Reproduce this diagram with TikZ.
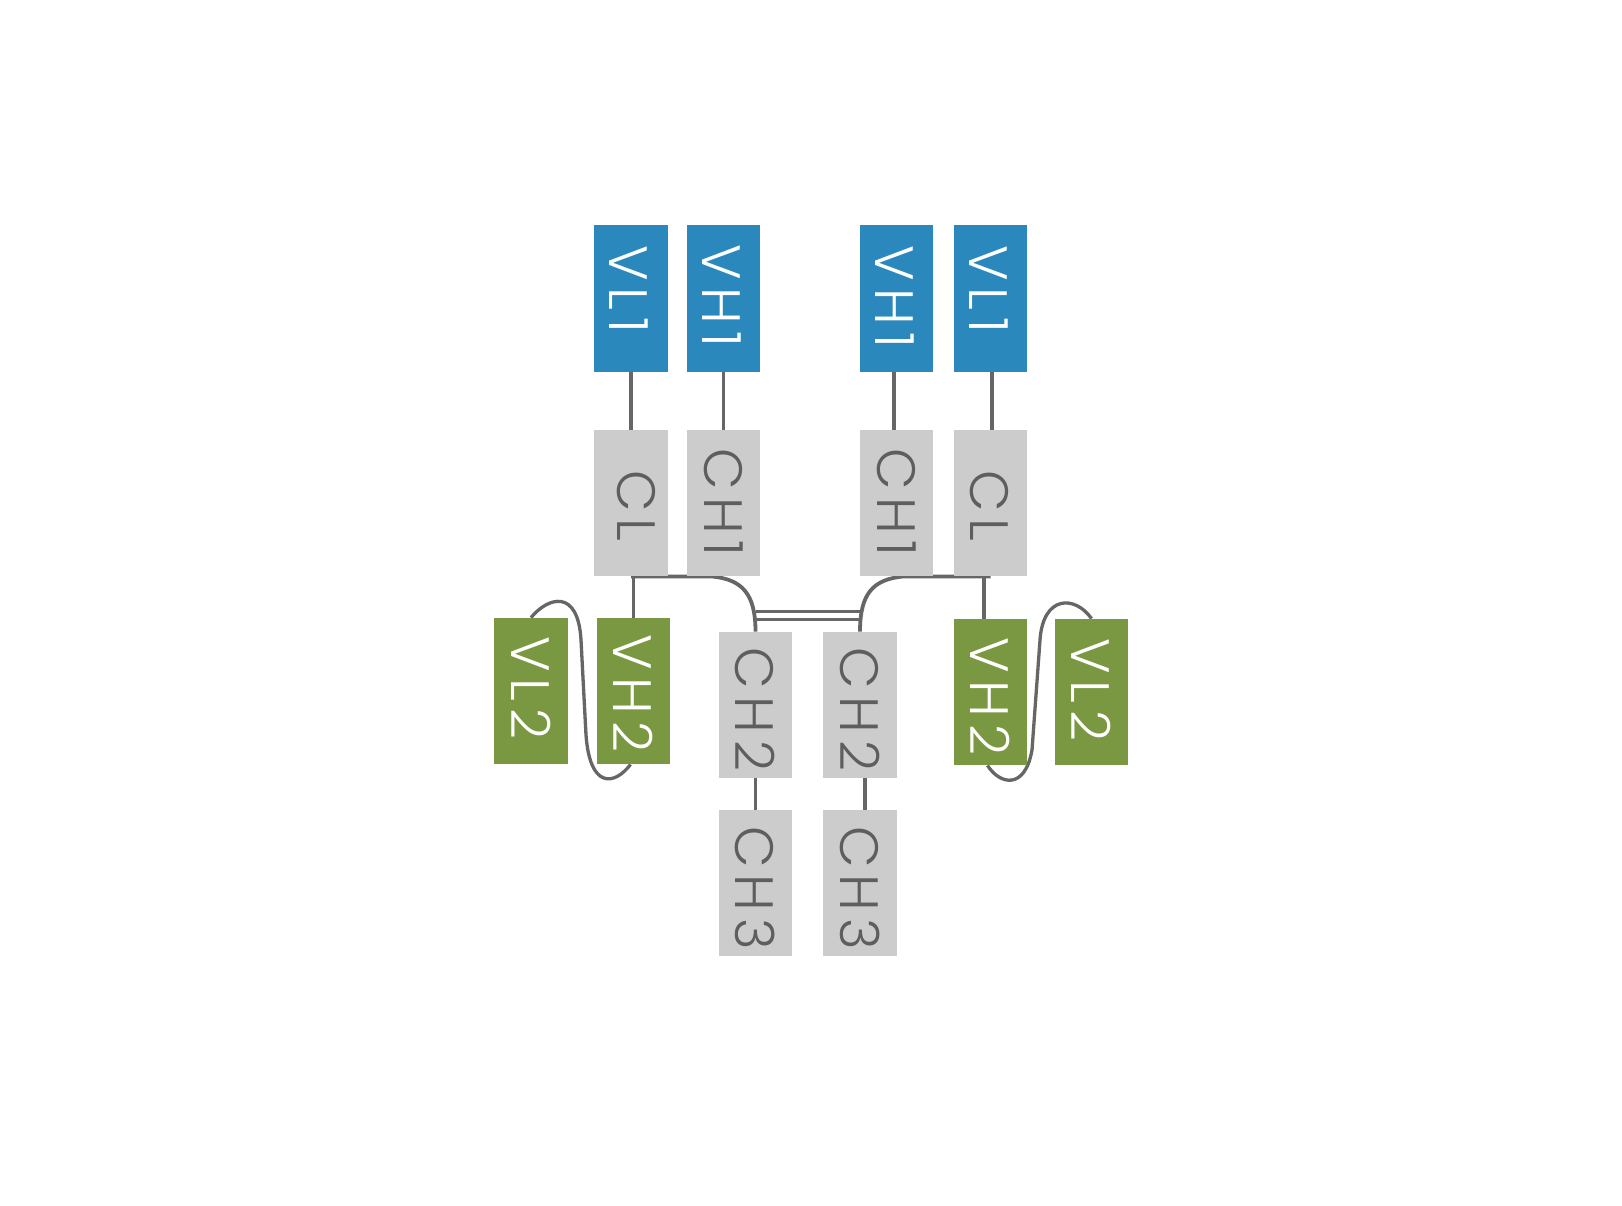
\documentclass[tikz,border=0pt]{standalone}
\usepackage{fontspec}
\IfFontExistsTF{Poppins Light}{\newfontfamily\labfont{Poppins Light}[LetterSpace=13]}{\newfontfamily\labfont{Poppins}[LetterSpace=13]}
\usetikzlibrary{backgrounds}
\definecolor{cblue}{HTML}{2A88BC}
\definecolor{cgreen}{HTML}{7A9841}
\definecolor{cgray}{HTML}{CCCCCC}
\definecolor{cline}{HTML}{666666}
\definecolor{ctext}{HTML}{5E5E5E}
\tikzset{
  box/.style={rectangle, draw=none, inner sep=0pt, minimum width=73.5pt, minimum height=146.5pt},
  bluebox/.style={box, fill=cblue},
  greenbox/.style={box, fill=cgreen},
  graybox/.style={box, fill=cgray},
  lab/.style={inner sep=0pt, rotate=-90, font=\labfont\fontsize{54}{54}\selectfont},
  wlab/.style={lab, text=white},
  glab/.style={lab, text=ctext},
  conn/.style={draw=cline, line width=3.8pt},
  loopc/.style={draw=cline, line width=3.3pt},
}
\begin{document}
\begin{tikzpicture}[x=1pt, y=-1pt]
\useasboundingbox (0,0) rectangle (1622,1205);
% boxes
\node[bluebox] (VL1a) at (631,298.5) {};
\node[bluebox] (VH1a) at (723.5,298.5) {};
\node[bluebox] (VH1b) at (896.5,298.5) {};
\node[bluebox] (VL1b) at (990.5,298.5) {};
\node[graybox] (CLa) at (631,503) {};
\node[graybox] (CH1a) at (723.5,503) {};
\node[graybox] (CH1b) at (896.5,503) {};
\node[graybox] (CLb) at (990.5,503) {};
\node[greenbox] (VL2a) at (531,691) {};
\node[greenbox] (VH2a) at (633.5,691) {};
\node[greenbox] (VH2b) at (990.5,692) {};
\node[greenbox] (VL2b) at (1091.5,692) {};
\node[graybox] (CH2a) at (755.5,705) {};
\node[graybox] (CH2b) at (860,705) {};
\node[graybox] (CH3a) at (755.5,883) {};
\node[graybox] (CH3b) at (860,883) {};
% labels
\node[wlab] (tVL1a) at (629,289.5) {VL1};
\node[wlab] (tVH1a) at (721.5,296) {VH1};
\node[wlab] (tVH1b) at (894.5,297) {VH1};
\node[wlab] (tVL1b) at (988.5,289.5) {VL1};
\node[glab] (tCLa) at (636,506) {CL};
\node[glab] (tCH1a) at (723.5,502.5) {CH1};
\node[glab] (tCH1b) at (896.5,502.5) {CH1};
\node[glab] (tCLb) at (989,506) {CL};
\node[wlab] (tVL2a) at (531,688) {VL2};
\node[wlab] (tVH2a) at (633.5,693.5) {VH2};
\node[wlab] (tVH2b) at (990.5,696.5) {VH2};
\node[wlab] (tVL2b) at (1091.5,690) {VL2};
\node[glab] (tCH2a) at (755.5,709.5) {CH2};
\node[glab] (tCH2b) at (860,709.5) {CH2};
\node[glab] (tCH3a) at (755.5,888) {CH3};
\node[glab] (tCH3b) at (860,888) {CH3};
% connectors
\begin{scope}[on background layer]
\draw[conn] (VL1a) -- (CLa);
\draw[conn] (VH1a) -- (CH1a);
\draw[conn] ([xshift=-2.5pt]VH1b.south) -- ([xshift=-2.5pt]CH1b.north);
\draw[conn] ([xshift=1.5pt]VL1b.south) -- ([xshift=1.5pt]CLb.north);
\draw[conn] (VH2a.north |- CLa.south) -- (VH2a.north);
\draw[conn] ([xshift=-6.5pt]VH2b.north |- CLb.south) -- ([xshift=-6.5pt]VH2b.north);
\draw[conn] (CLa.south) -- ([xshift=-11.5pt]CH1a.south) .. controls +(30,3) and +(0,-38) .. (CH2a.north);
\draw[conn] (CLb.south) -- ([xshift=6.5pt]CH1b.south) .. controls +(-30,3) and +(0,-38) .. (CH2b.north);
\draw[conn] ([yshift=20pt]CH2a.north) -- ([yshift=20pt]CH2b.north);
\draw[conn] ([yshift=12pt]CH2a.north) -- ([yshift=12pt]CH2b.north);
\draw[conn] (CH2a) -- (CH3a);
\draw[conn] ([xshift=5pt]CH2b.south) -- ([xshift=5pt]CH3b.north);
\draw[loopc] (VL2a.north) .. controls (548,597) and (578,588) .. (581,640) -- (586,735) .. controls (590,790) and (615,785) .. ([xshift=-3pt]VH2a.south);
\draw[loopc] ([xshift=-3pt]VH2b.south) .. controls (1000,785) and (1025,790) .. (1032,750) -- (1040,640) .. controls (1043,595) and (1075,595) .. (VL2b.north);
\end{scope}
\end{tikzpicture}
\end{document}
